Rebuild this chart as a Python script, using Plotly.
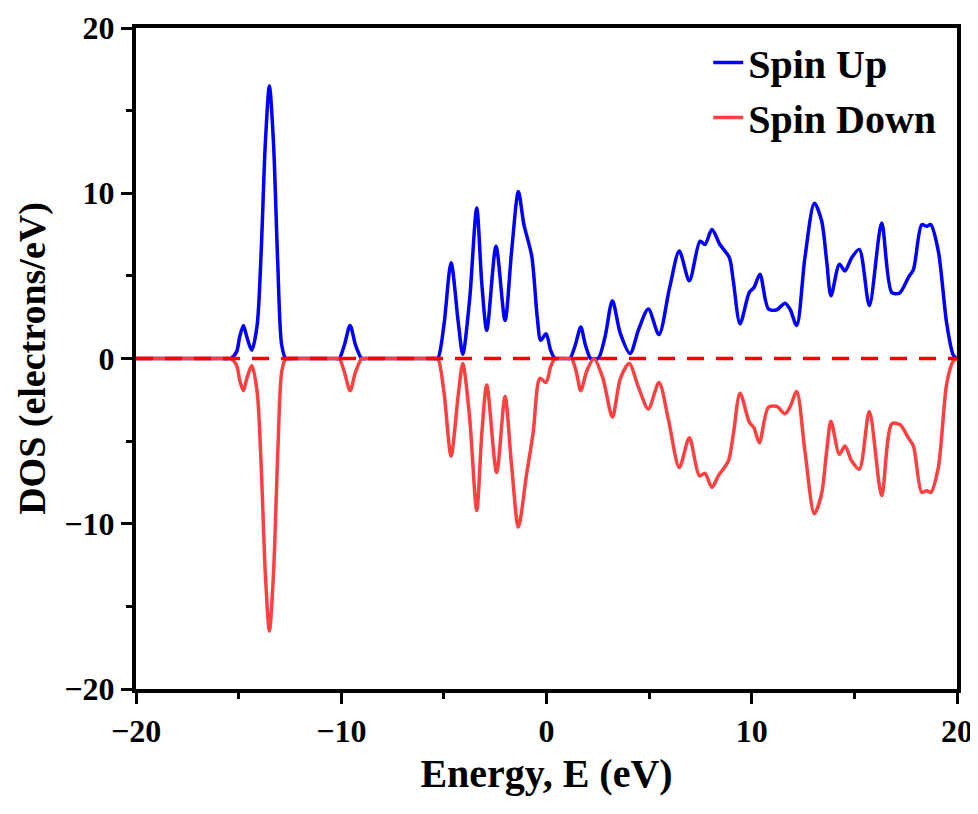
import plotly.graph_objects as go

energy_up = [-20, -17.0, -15.8, -15.4, -15.1, -14.95, -14.77, -14.6, -14.36, -14.1, -13.9, -13.7, -13.5, -13.3, -13.1,
             -12.9, -12.7, -12.4, -11.0, -10.3, -10.1, -9.85, -9.57, -9.3, -9.0, -8.8, -7.0, -5.5, -5.3, -5.0,
             -4.65, -4.3, -4.08, -3.75, -3.4, -3.15, -2.91, -2.46, -2.02, -1.7, -1.37, -1.1, -0.72, -0.45, -0.28,
             -0.02, 0.2, 0.41, 0.6, 0.95, 1.14, 1.4, 1.67, 1.9, 2.15, 2.3, 2.52, 2.85, 3.21, 3.6, 4.07, 4.5, 4.96,
             5.48, 6.0, 6.47, 6.96, 7.48, 7.72, 8.06, 8.45, 8.91, 9.1, 9.43, 9.88, 10.11, 10.4, 10.81, 11.22,
             11.62, 11.86, 12.19, 12.59, 13.05, 13.4, 13.65, 13.86, 14.27, 14.54, 14.87, 15.24, 15.73, 16.33,
             16.82, 17.19, 17.63, 17.88, 18.28, 18.52, 18.72, 19.09, 19.5, 19.82, 20]
dos_up = [0, 0, 0, 0, 0.4, 1.3, 2.0, 1.3, 0.5, 2.0, 6.5, 13.0, 16.5, 13.0, 6.0,
          0.8, 0, 0, 0, 0, 0, 0.8, 2.0, 0.8, 0, 0, 0, 0, 0, 2.0,
          5.8, 2.2, 0.25, 3.5, 9.1, 4.5, 1.7, 6.8, 2.3, 6.5, 10.1, 8.1, 6.2, 2.5, 1.1,
          1.5, 0.5, 0, 0, 0, 0, 0.8, 1.9, 0.8, 0, 0, 0, 1.3, 3.5, 1.5, 0.3, 1.8, 3.0,
          1.45, 4.3, 6.5, 4.7, 7.1, 6.9, 7.8, 6.9, 6.1, 4.7, 2.1, 4.0, 4.3, 5.1, 3.0, 2.95,
          3.35, 3.0, 2.0, 6.1, 9.4, 8.35, 5.9, 3.8, 5.7, 5.3, 6.1, 6.6, 3.2, 8.2,
          4.0, 3.95, 4.9, 5.4, 8.1, 8.0, 8.1, 6.5, 2.1, 0.2, 0]

energy_down = [-20, -17.0, -15.8, -15.4, -15.1, -14.95, -14.77, -14.6, -14.36, -14.1, -13.9, -13.7, -13.5, -13.3, -13.1,
               -12.9, -12.7, -12.4, -11.0, -10.3, -10.1, -9.85, -9.57, -9.3, -9.0, -8.8, -7.0, -5.5, -5.3, -5.0,
               -4.65, -4.3, -4.08, -3.75, -3.4, -3.15, -2.91, -2.43, -2.02, -1.7, -1.37, -0.97, -0.65, -0.32, -0.02,
               0.2, 0.41, 0.6, 1.0, 1.22, 1.45, 1.67, 1.95, 2.31, 2.75, 3.21, 3.6, 4.03, 4.47, 4.96, 5.48, 5.94,
               6.47, 6.96, 7.45, 7.72, 8.06, 8.37, 8.86, 9.1, 9.43, 9.88, 10.11, 10.37, 10.81, 11.22, 11.62, 11.86,
               12.19, 12.59, 13.05, 13.4, 13.65, 13.86, 14.27, 14.54, 14.87, 15.24, 15.73, 16.33, 16.82, 17.22,
               17.63, 17.88, 18.28, 18.52, 18.72, 19.09, 19.5, 19.82, 20]
dos_down = [0, 0, 0, 0, -0.4, -1.3, -1.95, -1.2, -0.42, -2.0, -6.5, -13.0, -16.5, -13.0, -6.0,
            -0.8, 0, 0, 0, 0, 0, -0.8, -1.95, -0.8, 0, 0, 0, 0, 0, -2.0,
            -5.9, -2.2, -0.3, -3.5, -9.2, -4.5, -1.6, -6.9, -2.3, -6.5, -10.2, -7.0, -4.5, -1.2, -1.45,
            -0.5, 0, 0, 0, 0, -0.8, -1.95, -0.8, 0, -1.2, -3.55, -1.2, -0.3, -1.7, -3.05, -1.45, -3.7,
            -6.6, -4.8, -7.1, -6.95, -7.8, -7.1, -6.2, -4.6, -2.1, -3.85, -4.2, -5.1, -2.95, -2.9, -3.35, -2.95,
            -2.0, -5.6, -9.4, -8.2, -5.6, -3.8, -5.8, -5.3, -6.2, -6.7, -3.2, -8.3, -3.95, -4.0,
            -4.8, -5.3, -8.1, -8.0, -8.1, -6.6, -1.5, -0.15, 0]

x_ticks = [-20, -10, 0, 10, 20]
y_ticks = [-20, -10, 0, 10, 20]

FONT = "Liberation Serif"


def tick_text(vals):
    return [f"<b>{v}</b>".replace("-", "\u2212") for v in vals]


fig = go.Figure()
fig.add_trace(go.Scatter(x=energy_up, y=dos_up, mode="lines", name="<b>Spin Up</b>",
                         line=dict(color="#0000FF", width=3.5, shape="spline", smoothing=0.8)))
fig.add_trace(go.Scatter(x=energy_down, y=dos_down, mode="lines", name="<b>Spin Down</b>",
                         line=dict(color="#FF4040", width=3.5, shape="spline", smoothing=0.8)))
fig.add_hline(y=0, line=dict(color="#FF0000", width=3.5, dash="17px,12px"), layer="above")

axis_common = dict(
    showline=True, linewidth=4, linecolor="black", mirror=True,
    ticks="outside", ticklen=11, tickwidth=3, tickcolor="black",
    showgrid=False, zeroline=False, automargin=False,
    tickfont=dict(family=FONT, size=32, color="black"),
    minor=dict(ticks="outside", ticklen=6, tickwidth=3, tickcolor="black", dtick=5),
)

fig.update_xaxes(range=[-20, 20], tickvals=x_ticks, ticktext=tick_text(x_ticks),
                 title=dict(text="<b>Energy, E (eV)</b>", font=dict(family=FONT, size=40, color="black"), standoff=12),
                 **axis_common)
fig.update_yaxes(range=[-20, 20], tickvals=y_ticks, ticktext=tick_text(y_ticks),
                 title=dict(text="<b>DOS (electrons/eV)</b>", font=dict(family=FONT, size=38, color="black"), standoff=8),
                 **axis_common)

fig.update_layout(
    width=970, height=806,
    margin=dict(l=128, r=21, t=20, b=125),
    plot_bgcolor="white", paper_bgcolor="white",
    font=dict(family=FONT, color="black"),
    legend=dict(x=0.697, y=0.997, xanchor="left", yanchor="top",
                font=dict(family=FONT, size=40, color="black"),
                bgcolor="rgba(0,0,0,0)", tracegroupgap=0),
    showlegend=True,
)

fig.write_html("out.html")
